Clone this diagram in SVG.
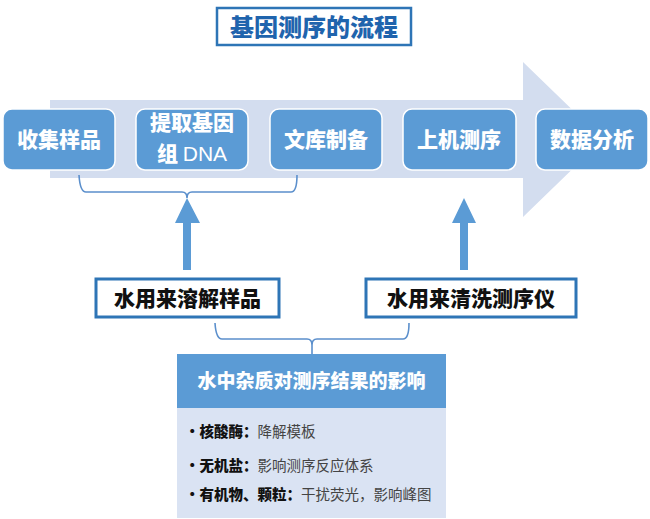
<svg xmlns="http://www.w3.org/2000/svg" width="650" height="519" viewBox="0 0 650 519">
<style>
.step{fill:#5b9bd5;stroke:#ffffff;stroke-width:1.5}
.stept{font-family:"Noto Sans CJK SC","Liberation Sans",sans-serif;font-weight:900;font-size:21px;fill:#ffffff;text-anchor:middle}
.wbox{fill:#ffffff;stroke:#2e75b6;stroke-width:3}
.wt{font-family:"Noto Sans CJK SC","Liberation Sans",sans-serif;font-weight:900;font-size:21px;fill:#111111;text-anchor:middle}
.brace{fill:none;stroke:#5b8fcc;stroke-width:1.6}
.up{fill:#5b9bd5}
.b{font-family:"Noto Sans CJK SC","Liberation Sans",sans-serif;font-size:14.5px}
.bb{font-weight:900;fill:#111111}
.bn{font-weight:normal;fill:#444444}
</style>
<rect x="0" y="0" width="650" height="519" fill="#ffffff"/>
<g id="title">
<rect x="217" y="8" width="194" height="37" fill="#ffffff" stroke="#2e75b6" stroke-width="2.5"/>
<text x="314" y="35.5" font-family="'Noto Sans CJK SC','Liberation Sans',sans-serif" font-weight="900" font-size="24" fill="#1f64ad" text-anchor="middle">基因测序的流程</text>
</g>
<g id="flow-arrow">
<polygon points="50,100 523,100 523,62 603,139.5 523,217 523,178 50,178" fill="#d3ddef"/>
</g>
<g id="step1"><rect class="step" x="3" y="109" width="112" height="61" rx="9"/><text class="stept" x="59" y="147">收集样品</text></g>
<g id="step2"><rect class="step" x="136" y="109" width="112" height="61" rx="9"/><text class="stept" x="192" y="130">提取基因</text><text class="stept" x="192" y="161">组 <tspan font-family="'Liberation Sans',sans-serif" font-weight="normal">DNA</tspan></text></g>
<g id="step3"><rect class="step" x="270" y="109" width="112" height="61" rx="9"/><text class="stept" x="326" y="147">文库制备</text></g>
<g id="step4"><rect class="step" x="403" y="109" width="113" height="61" rx="9"/><text class="stept" x="459" y="147">上机测序</text></g>
<g id="step5"><rect class="step" x="536" y="109" width="112" height="61" rx="9"/><text class="stept" x="592" y="147">数据分析</text></g>
<g id="connectors">
<path class="brace" d="M79,175 Q80,192 86,192 L182,192 Q187,192 187,198 Q187,192 192,192 L291,192 Q297,192 297,175"/>
<polygon class="up" points="187,198 200,223 191,223 191,270 183,270 183,223 175,223"/>
<polygon class="up" points="464,198 476,223 468,223 468,270 460,270 460,223 452,223"/>
<path class="brace" d="M215,323 Q216,339 222,339 L307,339 Q312,339 312,345 L312,354 M312,345 Q312,339 317,339 L403,339 Q409,339 409,323"/>
</g>
<g id="use1"><rect class="wbox" x="96" y="279" width="183" height="38"/><text class="wt" x="187.5" y="305.5">水用来溶解样品</text></g>
<g id="use2"><rect class="wbox" x="366" y="279" width="210" height="38"/><text class="wt" x="471" y="305.5">水用来清洗测序仪</text></g>
<g id="impurities">
<rect x="177" y="408" width="269" height="110" fill="#dae3f3"/>
<rect x="177" y="354" width="269" height="54" fill="#5b9bd5"/>
<text x="311.5" y="387.5" font-family="'Noto Sans CJK SC','Liberation Sans',sans-serif" font-weight="900" font-size="19" fill="#ffffff" text-anchor="middle">水中杂质对测序结果的影响</text>
<text class="b" x="185" y="437"><tspan class="bb">•核酸酶：</tspan><tspan class="bn">降解模板</tspan></text>
<text class="b" x="185" y="471"><tspan class="bb">•无机盐：</tspan><tspan class="bn">影响测序反应体系</tspan></text>
<text class="b" x="185" y="500"><tspan class="bb">•有机物、颗粒：</tspan><tspan class="bn">干扰荧光，影响峰图</tspan></text>
</g>
</svg>
